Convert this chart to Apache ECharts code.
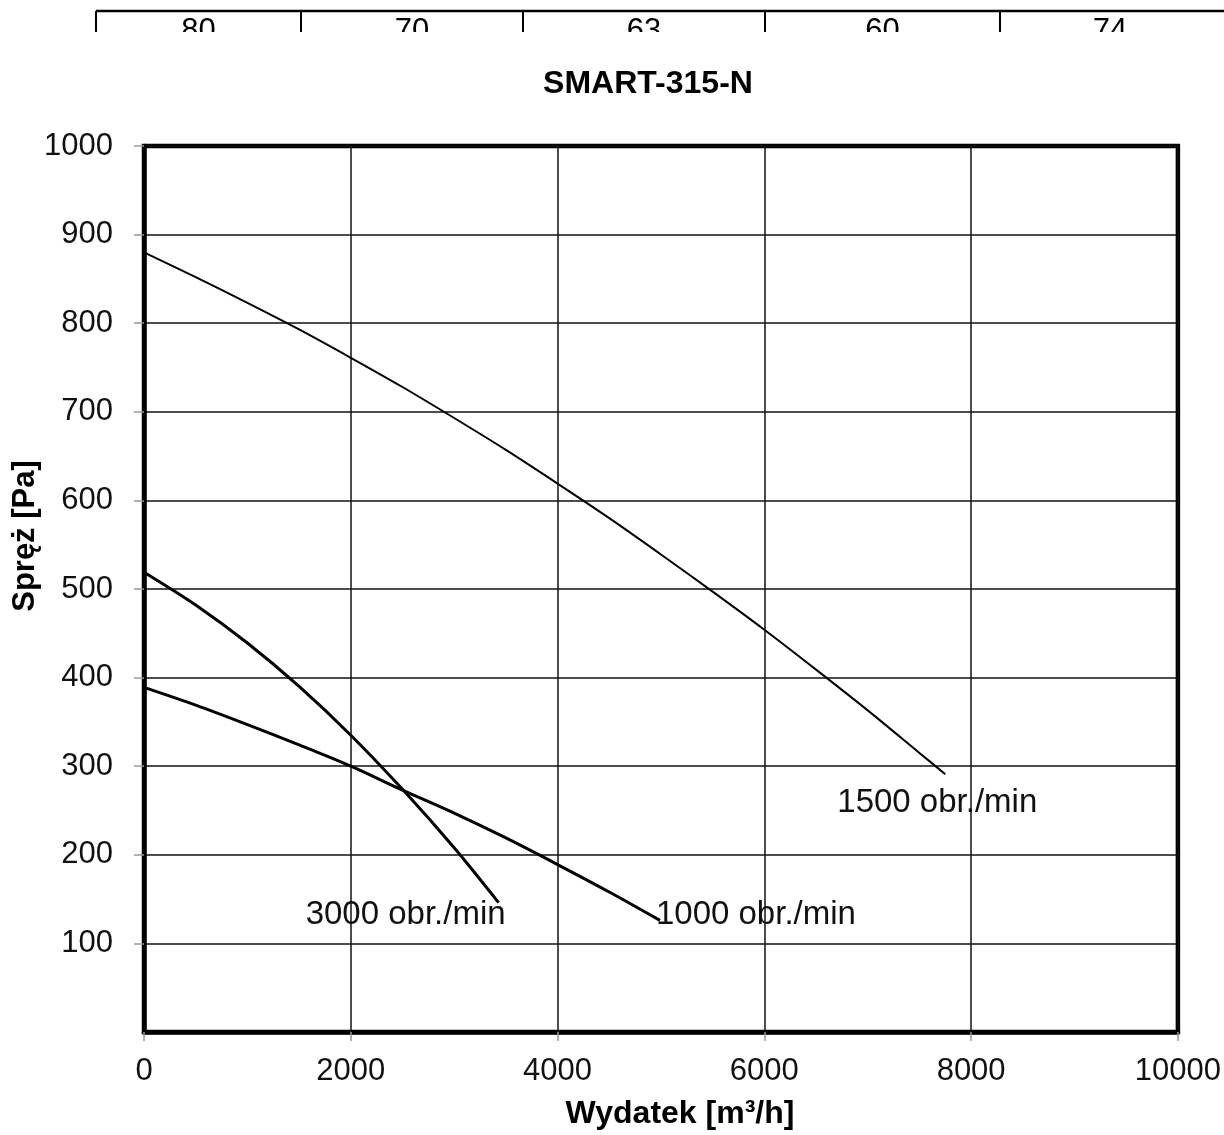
<!DOCTYPE html>
<html>
<head>
<meta charset="utf-8">
<script src="https://cdn.jsdelivr.net/npm/echarts@6/dist/echarts.min.js"></script>
<style>
html,body{margin:0;padding:0;background:#fff;}
#chart{width:1224px;height:1135px;}
</style>
</head>
<body>
<div id="chart"></div>
<script>
// ---- data ----
var chartTitle = 'SMART-315-N';
var xAxisName = 'Wydatek [m³/h]';
var yAxisName = 'Spręż [Pa]';
var xTicks = [0, 2000, 4000, 6000, 8000, 10000];
var yTicks = [100, 200, 300, 400, 500, 600, 700, 800, 900, 1000];
var tableValues = ['80', '70', '63', '60', '74'];

var flow1500 = [0, 500, 1000, 1500, 2000, 2500, 3000, 3500, 4000, 4500, 5000, 5500, 6000, 6500, 7000, 7500, 7750];
var press1500 = [880, 852, 823, 793, 761, 728, 693, 657, 619, 580, 539, 497, 454, 409, 363, 315, 291];
var flow3000 = [0, 500, 1000, 1500, 2000, 2500, 3000, 3430];
var press3000 = [519, 482, 439, 390, 335, 274, 208, 146];
var flow1000 = [0, 500, 1000, 1500, 2000, 2500, 3000, 3500, 4000, 4500, 4990];
var press1000 = [389, 369, 347, 324, 300, 273, 247, 219, 189, 158, 126];
var seriesNames = ['1500 obr./min', '3000 obr./min', '1000 obr./min'];

function zip(xs, ys) { return xs.map(function (x, i) { return [x, ys[i]]; }); }

var FONT = '"Liberation Sans", Arial, sans-serif';

// ---- decorative partial table at the top ----
var tableEdges = [96, 301, 523, 765, 1000, 1220];
var graphics = [];
tableValues.forEach(function (v, i) {
  graphics.push({
    type: 'text', z: 10,
    x: (tableEdges[i] + tableEdges[i + 1]) / 2, y: 16,
    style: { text: v, font: '31px ' + FONT, fill: '#000', textAlign: 'center', textVerticalAlign: 'top' }
  });
});
graphics.push({ type: 'rect', z: 11, shape: { x: 0, y: 32, width: 1224, height: 30 }, style: { fill: '#fff' } });
graphics.push({ type: 'line', z: 12, shape: { x1: 96, y1: 11, x2: 1224, y2: 11 }, style: { stroke: '#000', lineWidth: 2.5 } });
for (var i = 0; i < 5; i++) {
  graphics.push({ type: 'line', z: 12, shape: { x1: tableEdges[i], y1: 11, x2: tableEdges[i], y2: 32 }, style: { stroke: '#000', lineWidth: 2 } });
}
// axis names
graphics.push({
  type: 'text', x: 25, y: 536, rotation: Math.PI / 2,
  style: { text: yAxisName, font: 'bold 31px ' + FONT, fill: '#000', textAlign: 'center', textVerticalAlign: 'middle' }
});
graphics.push({
  type: 'text', x: 680, y: 1114,
  style: { text: xAxisName, font: 'bold 32px ' + FONT, fill: '#000', textAlign: 'center', textVerticalAlign: 'middle' }
});

function endMark(name, xs, ys, off) {
  var n = xs.length - 1;
  return {
    symbol: 'circle', symbolSize: 1, silent: true,
    itemStyle: { color: 'rgba(0,0,0,0)' },
    label: { show: true, position: 'inside', offset: off, formatter: name, fontSize: 33, fontFamily: FONT, color: '#111' },
    data: [{ coord: [xs[n], ys[n]] }]
  };
}

var chart = echarts.init(document.getElementById('chart'), null, { renderer: 'canvas' });
chart.setOption({
  backgroundColor: '#fff',
  animation: false,
  title: {
    text: chartTitle, left: 648, top: 68, textAlign: 'center', padding: 0,
    textStyle: { fontFamily: FONT, fontSize: 32, fontWeight: 'bold', color: '#000' }
  },
  grid: {
    left: 144, right: 46, top: 146, bottom: 103, containLabel: false,
    show: true, borderColor: '#000', borderWidth: 4.5, backgroundColor: 'transparent'
  },
  xAxis: {
    type: 'value', min: 0, max: 10000, interval: 2000,
    axisLine: { show: true, lineStyle: { color: '#000', width: 4.5 } },
    axisTick: { show: true, length: 9, lineStyle: { color: '#999', width: 1.5 } },
    axisLabel: { fontSize: 31, fontFamily: FONT, color: '#111', margin: 24,
      formatter: function (v) { return xTicks.indexOf(v) >= 0 ? String(v) : ''; } },
    splitLine: { show: true, lineStyle: { color: '#111', width: 1.5 } }
  },
  yAxis: {
    type: 'value', min: 0, max: 1000, interval: 100,
    axisLine: { show: true, lineStyle: { color: '#000', width: 4.5 } },
    axisTick: { show: true, length: 10, lineStyle: { color: '#999', width: 1.5 } },
    axisLabel: { fontSize: 31, fontFamily: FONT, color: '#111', margin: 31, showMinLabel: false,
      formatter: function (v) { return yTicks.indexOf(v) >= 0 ? String(v) : ''; } },
    splitLine: { show: true, lineStyle: { color: '#111', width: 1.5 } }
  },
  series: [
    { name: seriesNames[0], type: 'line', smooth: 0.3, symbol: 'none', data: zip(flow1500, press1500),
      lineStyle: { color: '#000', width: 2 }, markPoint: endMark(seriesNames[0], flow1500, press1500, [-8, 29]) },
    { name: seriesNames[1], type: 'line', smooth: 0.3, symbol: 'none', data: zip(flow3000, press3000),
      lineStyle: { color: '#000', width: 3 }, markPoint: endMark(seriesNames[1], flow3000, press3000, [-93, 12]) },
    { name: seriesNames[2], type: 'line', smooth: 0.3, symbol: 'none', data: zip(flow1000, press1000),
      lineStyle: { color: '#000', width: 3 }, markPoint: endMark(seriesNames[2], flow1000, press1000, [96, -5]) }
  ],
  graphic: graphics
});
</script>
</body>
</html>
